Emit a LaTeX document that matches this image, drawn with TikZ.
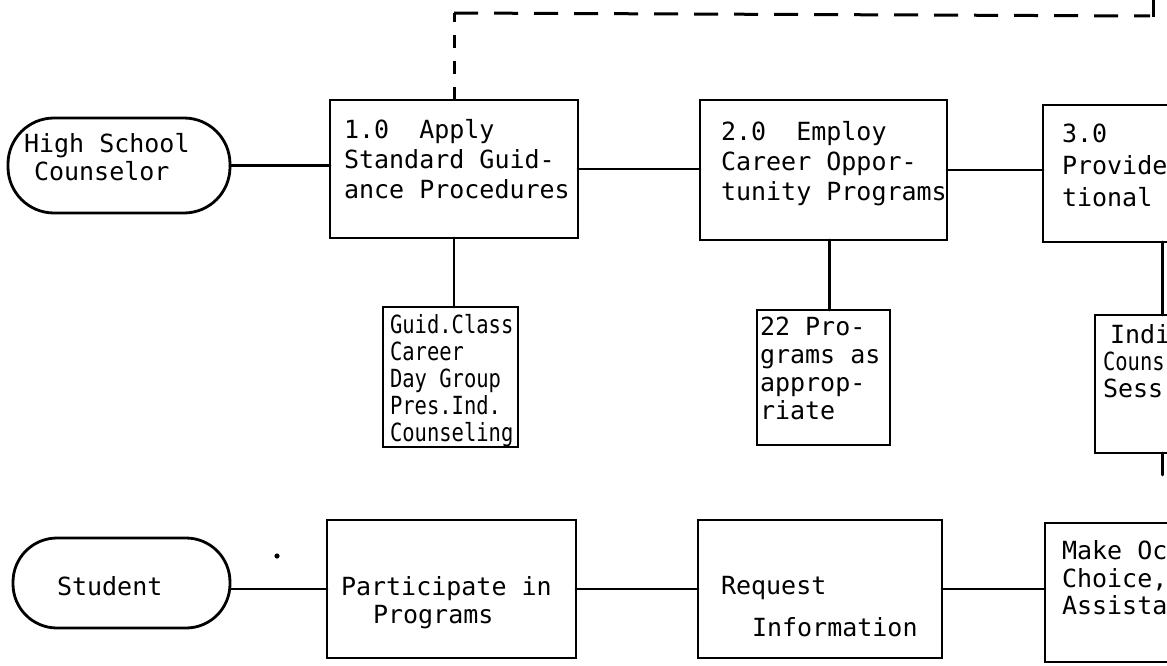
\documentclass[tikz,border=0pt]{standalone}
\usepackage{fontspec}
\newfontfamily\mono{DejaVu Sans Mono}
\newfontfamily\monocond[FakeStretch=0.82]{DejaVu Sans Mono}
\usetikzlibrary{calc}

\tikzset{
  ink/.style={line width=2.8pt, black},
  box/.style={draw, ink, rectangle, inner sep=0pt, outer sep=0pt},
  pill/.style={box, rounded corners=#1},
  conn/.style={ink, line cap=round},
  vdash/.style={line width=3pt, dash pattern=on 13pt off 13pt},
  hdash/.style={line width=3pt, dash pattern=on 24pt off 16pt},
  lbl/.style={anchor=north west, inner sep=0pt, outer sep=0pt, align=left,
              font=\mono\fontsize{25}{#1}\selectfont},
  clbl/.style={lbl=#1, font=\monocond\fontsize{25}{#1}\selectfont},
}

\begin{document}
\begin{tikzpicture}[x=1pt,y=-1pt]
\useasboundingbox (0,0) rectangle (1167,666);
\clip (0,0) rectangle (1167,666);
\fill[white] (0,0) rectangle (1167,666);

% ---- counselor row ----
\node[pill=46pt, minimum width=222pt, minimum height=95pt] (hs) at (119,165.5) {};
\node[box, minimum width=248pt, minimum height=138pt] (b1) at (454,169) {};
\node[box, minimum width=247pt, minimum height=140pt] (b2) at (823.5,170) {};
\node[box, minimum width=248pt, minimum height=137pt] (b3) at (1167,173.5) {};

% ---- supporting activities ----
\node[box, minimum width=135pt, minimum height=140pt] (s1) at (450.5,377) {};
\node[box, minimum width=133pt, minimum height=135pt] (s2) at (823.5,377.5) {};
\node[box, minimum width=135pt, minimum height=138pt] (s3) at (1162.5,384) {};

% ---- student row ----
\node[pill=44pt, minimum width=217pt, minimum height=90pt] (st) at (121.5,583) {};
\node[box, minimum width=249pt, minimum height=138pt] (p1) at (451.5,589) {};
\node[box, minimum width=244pt, minimum height=138pt] (p2) at (820,589) {};
\node[box, minimum width=248pt, minimum height=139pt] (p3) at (1169,592.5) {};

% ---- connectors ----
\draw[conn] (hs.east) -- (hs.east -| b1.west);
\draw[conn] (b1.east) -- (b1.east -| b2.west);
\draw[conn] (b2.east) -- (b2.east -| b3.west);
\draw[conn] (b1.south) -- (b1.south |- s1.north);
\draw[conn] ([xshift=6pt]b2.south) -- ([xshift=6pt]b2.south |- s2.north);
\draw[conn] (s3.north) -- (s3.north |- b3.south);
\coordinate (s3end) at ($(s3.south)+(0,22)$);
\draw[conn] (s3.south) -- (s3end);

\draw[conn] (p1.west -| st.east) -- (p1.west);
\draw[conn] (p1.east) -- (p1.east -| p2.west);
\draw[conn] (p2.east) -- (p2.east -| p3.west);

% ---- dashed feedback loop ----
\coordinate (dc) at (454,13);
\coordinate (de) at (1150,16);
\coordinate (dt) at (1153,-2);
\draw[vdash] (b1.north) -- (dc);
\draw[hdash] (dc) -- (de);
\draw[line width=3pt] ($(de)+(3,1)$) -- (dt);

% stray mark
\fill (277,556) circle (2.6pt);

% ---- texts ----
\node[lbl=28] (ths) at (24,132.4) {\strut High School\\\hspace*{10pt}Counselor};
\node[lbl=30] (tb1) at (344,117) {\strut 1.0\ \ Apply\\Standard Guid-\\ance Procedures};
\node[lbl=30] (tb2) at (721,119) {\strut 2.0\ \ Employ\\Career Oppor-\\tunity Programs};
\node[lbl=32] (tb3) at (1062,119.6) {\strut 3.0\\Provide\\tional};

\node[clbl=27] (ts1) at (390,314.1) {\strut Guid.Class\\Career\\Day Group\\Pres.Ind.\\Counseling};
\node[lbl=28] (ts2) at (760,315.4) {\strut 22 Pro-\\grams as\\approp-\\riate};
\node[lbl=27] (ts3) at (1103,324.1) {\strut\hspace*{7pt}Indi\\{\monocond Couns}\\Sess};

\node[lbl=30] (tst) at (57,574) {\strut Student};
\node[lbl=28] (tp1) at (341,575.4) {\strut Participate in\\\hspace*{32pt}Programs};
\node[lbl=42] (tp2) at (721,564.6) {\strut Request\\\hspace*{31pt}Information};
\node[lbl=27] (tp3) at (1062,540.1) {\strut Make Oc\\Choice,\\Assista};
\end{tikzpicture}
\end{document}
